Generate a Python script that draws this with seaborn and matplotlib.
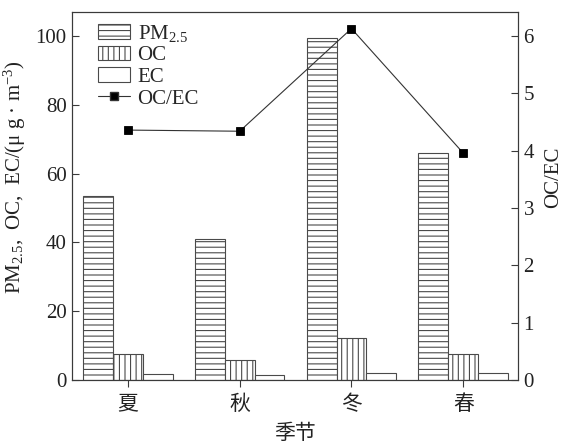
import numpy as np
import pandas as pd
import matplotlib
matplotlib.use("Agg")
import matplotlib.pyplot as plt
import seaborn as sns
from matplotlib.patches import Patch
from matplotlib.lines import Line2D

# Seasonal concentrations (μg/m³) and OC/EC ratio
seasons = ["夏", "秋", "冬", "春"]
pm25 = [53.5, 40.9, 99.3, 65.9]
oc = [7.5, 5.9, 12.2, 7.5]
ec = [1.8, 1.5, 2.0, 2.0]
oc_ec = [4.36, 4.34, 6.13, 3.96]
series_labels = ["PM$_{2.5}$", "OC", "EC"]
hatches = ["---", "|||", ""]

sns.set_style("ticks")
plt.rcParams["font.family"] = ["Liberation Serif", "Noto Sans CJK SC"]
plt.rcParams["mathtext.fontset"] = "custom"
plt.rcParams["mathtext.rm"] = "Liberation Serif"
plt.rcParams["mathtext.it"] = "Liberation Serif:italic"
plt.rcParams["hatch.color"] = "#4a4a4a"
plt.rcParams["hatch.linewidth"] = 0.8

ink = "#3a3a3a"
fs = 15

df = pd.DataFrame({
    "season": np.repeat(seasons, 3),
    "component": series_labels * len(seasons),
    "value": np.ravel(np.column_stack([pm25, oc, ec])),
})

fig = plt.figure(figsize=(5.63, 4.43), dpi=100)
ax = fig.add_axes([0.128, 0.142, 0.792, 0.831])

sns.barplot(data=df, x="season", y="value", hue="component",
            hue_order=series_labels, order=seasons,
            palette=["white"] * 3, edgecolor="#4a4a4a", linewidth=0.8,
            legend=False, ax=ax)
for container, h in zip(ax.containers, hatches):
    for bar in container:
        bar.set_hatch(h)

ax2 = ax.twinx()
sns.pointplot(x=seasons, y=oc_ec, order=seasons, color="black",
              markers="s", linestyles="-", ax=ax2,
              markersize=6, linewidth=0.8)
for ln in ax2.lines:
    ln.set_color("#333333")
    ln.set_markerfacecolor("black")
    ln.set_markeredgecolor("black")

ax.set_xlim(-0.5, 3.49)
ax.set_ylim(0, 107)
ax2.set_ylim(0, 6.42)
ax.set_yticks([0, 20, 40, 60, 80, 100])
ax2.set_yticks([0, 1, 2, 3, 4, 5, 6])

ax.set_xlabel("季节", fontsize=fs, color="#222")
ax.set_ylabel("PM$_{2.5}$,  OC,  EC/(μ g · m$^{-3}$)", fontsize=fs, color="#222")
ax2.set_ylabel("OC/EC", fontsize=fs, color="#222")
ax.yaxis.set_label_coords(-0.098, 0.55)
ax2.yaxis.set_label_coords(1.058, 0.55)
ax.xaxis.set_label_coords(0.5, -0.12)

for a in (ax, ax2):
    for sp in a.spines.values():
        sp.set_visible(True)
        sp.set_color(ink)
        sp.set_linewidth(0.8)
ax.tick_params(axis="y", direction="in", length=5, width=0.8, colors=ink,
               labelcolor="#222", labelsize=fs, pad=4)
ax.tick_params(axis="x", direction="out", length=5, width=0.8, colors=ink,
               labelcolor="#222", labelsize=fs, pad=6)
ax2.tick_params(axis="y", direction="in", length=5, width=0.8, colors=ink,
                labelcolor="#222", labelsize=fs, pad=4)

handles = [Patch(facecolor="white", edgecolor="#4a4a4a", hatch=h, linewidth=0.8)
           for h in hatches]
handles.append(Line2D([], [], color="#333333", linewidth=0.8, marker="s",
                      markersize=6, markerfacecolor="black"))
ax.legend(handles, series_labels + ["OC/EC"], loc="upper left",
          bbox_to_anchor=(0.03, 1.005), frameon=False, fontsize=fs,
          handlelength=1.55, handleheight=0.7, handletextpad=0.35,
          labelspacing=0.1, borderpad=0.1)

fig.savefig("out.png", dpi=100)
